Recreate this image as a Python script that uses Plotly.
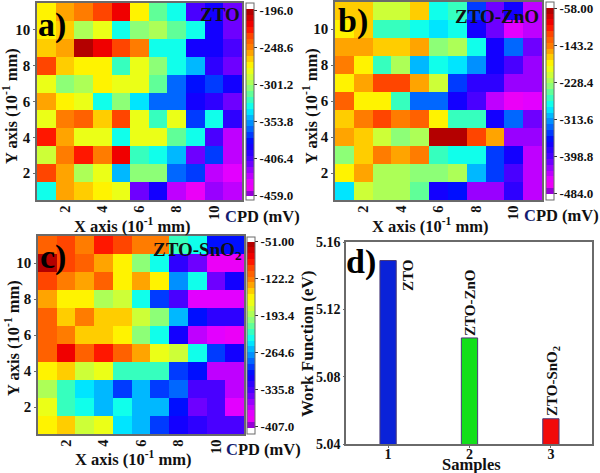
import plotly.graph_objects as go

W, H = 600, 473
FONT = "Liberation Serif"
X_CELLS = list(range(1, 12))
Y_CELLS = [11, 10, 9, 8, 7, 6, 5, 4, 3, 2, 1]

cpd_zto = [
    [-275,-254,-249,-230,-217,-270,-312,-335,-406,-391,-412],
    [-270,-264,-296,-280,-330,-309,-299,-317,-335,-388,-412],
    [-264,-254,-196,-214,-230,-246,-330,-335,-388,-388,-406],
    [-230,-264,-272,-272,-320,-278,-309,-335,-349,-401,-414],
    [-285,-306,-299,-272,-283,-283,-317,-362,-380,-372,-391],
    [-256,-272,-278,-335,-309,-341,-362,-362,-391,-401,-412],
    [-278,-249,-243,-264,-230,-285,-320,-278,-370,-335,-401],
    [-228,-256,-278,-278,-333,-285,-285,-317,-335,-406,-427],
    [-288,-249,-228,-251,-217,-320,-333,-349,-414,-372,-427],
    [-233,-259,-299,-280,-351,-309,-309,-364,-372,-433,-438],
    [-333,-259,-267,-275,-280,-417,-393,-435,-448,-422,-435],
]
cpd_zno = [
    [-177,-177,-207,-207,-177,-284,-262,-348,-407,-378,-441],
    [-186,-177,-258,-258,-275,-292,-284,-369,-407,-454,-441],
    [-156,-156,-177,-177,-160,-241,-224,-284,-369,-331,-412],
    [-143,-182,-258,-220,-309,-284,-292,-322,-369,-395,-424],
    [-190,-156,-122,-122,-156,-211,-343,-390,-390,-420,-420],
    [-135,-182,-190,-258,-326,-326,-369,-399,-433,-463,-446],
    [-169,-143,-113,-147,-130,-190,-258,-258,-369,-331,-412],
    [-156,-173,-207,-241,-220,-58,-58,-118,-164,-420,-420],
    [-241,-173,-143,-160,-147,-258,-280,-280,-343,-369,-437],
    [-182,-160,-224,-224,-237,-237,-220,-301,-339,-403,-441],
    [-288,-207,-224,-224,-245,-378,-352,-424,-424,-386,-433],
]
cpd_sno = [
    [-108,-104,-122,-87,-104,-122,-126,-229,-240,-300,-300],
    [-51,-97,-115,-136,-161,-204,-240,-329,-346,-389,-389],
    [-97,-122,-136,-108,-154,-129,-158,-268,-236,-346,-311],
    [-129,-151,-151,-186,-176,-233,-290,-336,-375,-382,-382],
    [-111,-140,-126,-144,-144,-179,-200,-254,-300,-322,-322],
    [-111,-122,-147,-147,-161,-204,-240,-311,-364,-379,-393],
    [-115,-79,-108,-87,-108,-133,-165,-179,-240,-286,-311],
    [-151,-140,-176,-165,-222,-222,-222,-293,-304,-371,-371],
    [-193,-218,-243,-261,-290,-261,-290,-275,-336,-339,-371],
    [-165,-218,-240,-261,-240,-261,-261,-304,-346,-339,-382],
    [-161,-147,-183,-165,-243,-261,-293,-311,-325,-336,-336],
]
ticks_zto = [-196.0, -248.6, -301.2, -353.8, -406.4, -459.0]
ticks_zno = [-58.0, -143.2, -228.4, -313.6, -398.8, -484.0]
ticks_sno = [-51.0, -122.2, -193.4, -264.6, -335.8, -407.0]
labels_zto = ["-196.0", "-248.6", "-301.2", "-353.8", "-406.4", "-459.0"]
labels_zno = ["-58.00", "-143.2", "-228.4", "-313.6", "-398.8", "-484.0"]
labels_sno = ["-51.00", "-122.2", "-193.4", "-264.6", "-335.8", "-407.0"]

samples = [1, 2, 3]
work_function = [5.149, 5.103, 5.055]
bar_colors = ["#0a22d8", "#12e01a", "#f20a0a"]
sample_names = ["ZTO", "ZTO-ZnO", "ZTO-SnO<sub>2</sub>"]

ANCHORS = [
    (0.00, (150, 0, 215)), (0.04, (255, 0, 255)), (0.12, (165, 0, 255)),
    (0.18, (85, 0, 255)), (0.28, (0, 0, 255)), (0.36, (0, 110, 255)),
    (0.42, (0, 185, 255)), (0.47, (0, 255, 255)), (0.53, (70, 255, 170)),
    (0.58, (140, 255, 120)), (0.65, (210, 255, 50)), (0.70, (255, 255, 0)),
    (0.75, (255, 195, 0)), (0.80, (255, 130, 0)), (0.87, (255, 70, 0)),
    (0.92, (255, 0, 0)), (1.00, (180, 0, 0)),
]
LEVELS = 32


def ramp(t):
    for (a, ca), (b, cb) in zip(ANCHORS, ANCHORS[1:]):
        if t <= b:
            f = (t - a) / (b - a)
            c = [round(p + (q - p) * f) for p, q in zip(ca, cb)]
            return f"rgb({c[0]},{c[1]},{c[2]})"
    return "rgb(180,0,0)"


def stepped_scale(lo, hi, zmin, zmax):
    span = zmax - zmin
    a, b = (lo - 1 - zmin) / span, (hi + 1 - zmin) / span
    scale = [[0, "white"], [a, "white"]]
    for i in range(LEVELS):
        c = ramp(i / (LEVELS - 1))
        scale += [[a + (b - a) * i / LEVELS, c], [a + (b - a) * (i + 1) / LEVELS, c]]
    scale += [[b, "white"], [1, "white"]]
    return scale


fig = go.Figure()
FRAME = "#6a6a6a"


def px_x(p):
    return p / W


def px_y(p):
    return 1 - p / H


def add_text(text, x, y, size, color, angle=0):
    fig.add_annotation(
        text=text, x=px_x(x), y=px_y(y), xref="paper", yref="paper",
        showarrow=False, textangle=angle, xanchor="center", yanchor="middle",
        font=dict(family=FONT, size=size, color=color, weight="bold"),
    )


def panel(idx, z, tickv, tickl, box, bar, zr, name, name_xy, letter, letter_xy, cpd_xy, xt_xy, yt_xy):
    x0, x1, y0, y1 = box
    ax = "" if idx == 1 else str(idx)
    lo, hi = tickv[-1], tickv[0]
    fig.add_trace(go.Heatmap(
        z=z, x=X_CELLS, y=Y_CELLS, xaxis=f"x{ax}", yaxis=f"y{ax}",
        zmin=zr[0], zmax=zr[1], colorscale=stepped_scale(lo, hi, zr[0], zr[1]),
        colorbar=dict(
            x=px_x(bar[0]), xanchor="left", xpad=0, ypad=0,
            y=px_y(bar[2]), yanchor="bottom", lenmode="fraction",
            len=(bar[2] - bar[1]) / H, thickness=bar[3], thicknessmode="pixels",
            outlinecolor=FRAME, outlinewidth=1,
            tickvals=tickv, ticktext=tickl, ticks="outside", ticklen=3,
            tickcolor="#333", tickwidth=1,
            tickfont=dict(family=FONT, size=13, color="#111", weight="bold"),
        ),
    ))
    fig.update_layout({
        f"xaxis{ax}": dict(
            domain=[px_x(x0), px_x(x1)], anchor=f"y{ax}", range=[0.5, 11.5],
            tickvals=[2, 4, 6, 8, 10], tickangle=-90, ticks="", ticklabelstandoff=-2,
            showgrid=False, zeroline=False, showline=True,
            mirror=True, linecolor=FRAME, linewidth=1.5,
            tickfont=dict(family=FONT, size=14.5, color="#111", weight="bold"),
        ),
        f"yaxis{ax}": dict(
            domain=[px_y(y1), px_y(y0)], anchor=f"x{ax}", range=[0.5, 11.5],
            tickvals=[2, 4, 6, 8, 10], ticks="outside", ticklen=2,
            tickcolor=FRAME, showgrid=False, zeroline=False, showline=True,
            mirror=True, linecolor=FRAME, linewidth=1.5,
            tickfont=dict(family=FONT, size=15, color="#111", weight="bold"),
        ),
    })
    add_text("X axis (10<sup>-1</sup> mm)", xt_xy[0], xt_xy[1], 16.5, "#111")
    add_text("Y axis (10<sup>-1</sup> mm)", yt_xy[0], yt_xy[1], 16.5, "#111", -90)
    add_text(name, name_xy[0], name_xy[1], 19, "#111")
    add_text(letter, letter_xy[0], letter_xy[1], 34, "#000")
    add_text('<span style="color:#141c70">C</span>PD (mV)', cpd_xy[0], cpd_xy[1], 16.5, "#111")


panel(1, cpd_zto, ticks_zto, labels_zto, (37, 242, 3, 200), (246, 3, 200, 8),
      (-465, -186), "ZTO", (220, 14), "a)", (52, 25), (262, 216), (132, 225), (11, 106))
panel(2, cpd_zno, ticks_zno, labels_zno, (335, 542, 2, 200), (546, 2, 200, 8),
      (-499, -43.5), "ZTO-ZnO", (497, 16), "b)", (353, 21), (561, 215), (430, 225), (311, 106))
panel(3, cpd_sno, ticks_sno, labels_sno, (38, 244, 236, 434), (247, 237, 433.5, 7.5),
      (-420, -41), "ZTO-SnO<sub>2</sub>", (197, 251), "c)", (53, 257), (263, 449), (133, 458), (12, 338))

fig.add_trace(go.Bar(
    x=samples, y=work_function, xaxis="x4", yaxis="y4", width=0.2,
    marker=dict(color=bar_colors, line=dict(color="#4a3a78", width=1)),
    showlegend=False,
))
AXIS_FONT = dict(family=FONT, size=14, color="#111", weight="bold")
fig.update_layout(
    xaxis4=dict(domain=[px_x(346), px_x(592)], anchor="y4", range=[0.483, 3.505],
                tickvals=samples, ticks="outside", ticklen=2, ticklabelstandoff=-6,
                showgrid=False, zeroline=False, showline=True, mirror=True,
                linecolor=FRAME, linewidth=1.5, tickcolor=FRAME, tickfont=AXIS_FONT),
    yaxis4=dict(domain=[px_y(444), px_y(242)], anchor="x4", range=[5.04, 5.16],
                tickvals=[5.04, 5.08, 5.12, 5.16], tickformat=".2f", ticks="outside",
                ticklen=1, showgrid=False, zeroline=False, showline=True, mirror=True,
                linecolor=FRAME, linewidth=1.5, tickcolor=FRAME, tickfont=AXIS_FONT),
)
add_text("Samples", 471, 464, 16.5, "#111")
add_text("Work Function (eV)", 307, 344, 17, "#111", -90)
add_text(sample_names[0], 408, 276, 15, "#111", -90)
add_text(sample_names[1], 470, 303, 15, "#111", -90)
add_text(sample_names[2], 553, 381, 15, "#111", -90)
add_text("d)", 361, 262, 34, "#000")

fig.update_layout(width=W, height=H, autosize=False, paper_bgcolor="white",
                  plot_bgcolor="white",
                  margin=dict(l=0, r=0, t=0, b=0, autoexpand=False), showlegend=False)
fig.write_html("out.html", post_script="document.body.style.margin='0';",
               config={"displayModeBar": False})
